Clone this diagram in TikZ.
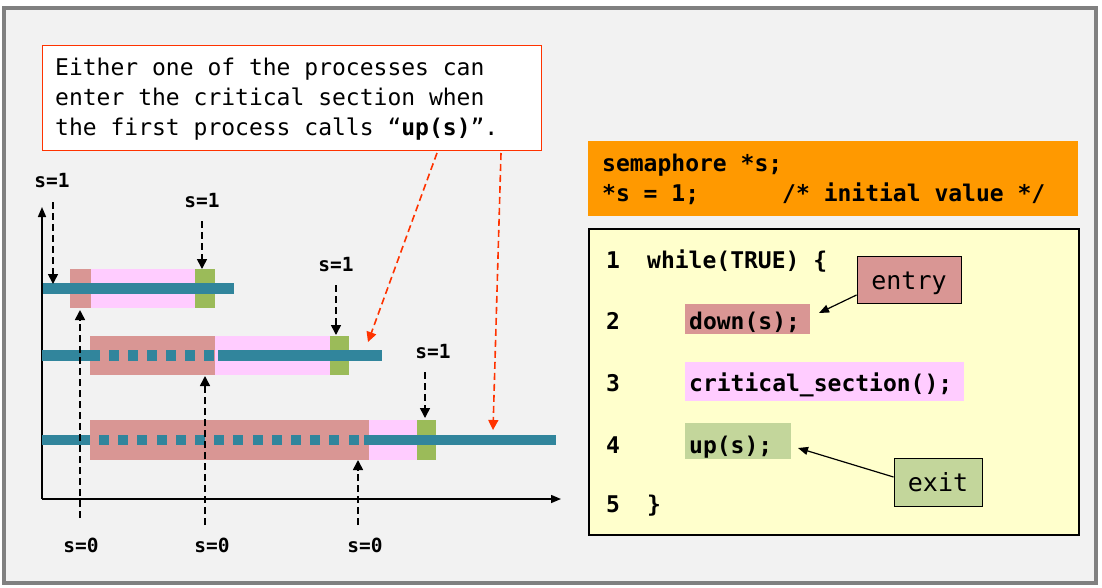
\documentclass[tikz,border=0pt]{standalone}
\usepackage{fontspec}
\setmonofont{DejaVu Sans Mono}
\usetikzlibrary{arrows.meta}
\definecolor{framegray}{HTML}{808080}
\definecolor{bggray}{HTML}{F2F2F2}
\definecolor{barteal}{HTML}{31859C}
\definecolor{blockred}{HTML}{D99694}
\definecolor{blockpink}{HTML}{FFCCFF}
\definecolor{blockgreen}{HTML}{9BBB59}
\definecolor{codegreen}{HTML}{C3D69B}
\definecolor{boxorange}{HTML}{FF9900}
\definecolor{boxyellow}{HTML}{FFFFCC}
\definecolor{calloutred}{HTML}{FF3300}
\tikzset{
  lbl/.style={font=\ttfamily\bfseries\fontsize{19.5}{21}\selectfont, inner sep=0pt, anchor=base},
  codetxt/.style={font=\ttfamily\bfseries\fontsize{23}{28}\selectfont, inner sep=0pt, anchor=base west},
  notetxt/.style={font=\ttfamily\fontsize{23}{30}\selectfont, inner sep=0pt, anchor=base west},
  tagbox/.style={draw=black, line width=1pt, font=\ttfamily\fontsize{25}{28}\selectfont, inner sep=0pt},
  darr/.style={dash pattern=on 7pt off 4pt, line width=1.6pt, -{Triangle[length=10pt,width=10pt]}},
  rarr/.style={darr, draw=calloutred, color=calloutred},
  tagarr/.style={line width=1.2pt, -{Triangle[length=10pt,width=8pt]}},
  axisarr/.style={line width=1.5pt, -{Triangle[length=10pt,width=8pt]}},
}
\begin{document}
\begin{tikzpicture}[x=1pt, y=-1pt]
\useasboundingbox (0,0) rectangle (1102,587);
% frame
\draw[line width=4pt, draw=framegray, fill=bggray] (4,8) rectangle (1096,583);

% callout
\node[draw=calloutred, line width=1pt, fill=white, minimum width=499pt, minimum height=105pt, anchor=north west, inner sep=0pt] (callout) at (42,45) {};
\node[notetxt] (n1) at (55,75) {Either one of the processes can};
\node[notetxt] (n2) at (55,105) {enter the critical section when};
\node[notetxt] (n3) at (55,135) {the first process calls “\textbf{up(s)}”.};

% axes
\coordinate (origin) at (42,499);
\coordinate (ytop) at (42,207);
\coordinate (xend) at (561,499);
\draw[axisarr] (origin) -- (ytop);
\draw[axisarr] (origin) -- (xend);

% row 1
\fill[blockred] (70,269) rectangle (91,308);
\fill[blockpink] (91,269) rectangle (195,308);
\fill[blockgreen] (195,269) rectangle (215,308);
\fill[barteal] (43,283) rectangle (234,294);

% row 2
\fill[blockred] (90,336) rectangle (215,375);
\fill[blockpink] (215,336) rectangle (330,375);
\fill[blockgreen] (330,336) rectangle (349,375);
\fill[barteal] (42,350) rectangle (100,361);
\foreach \k in {0,...,5} {\fill[barteal] ({109+19*\k},350) rectangle ({119+19*\k},361);}
\fill[barteal] (218,350) rectangle (382,361);

% row 3
\fill[blockred] (90,419.5) rectangle (369,460);
\fill[blockpink] (369,419.5) rectangle (417,460);
\fill[blockgreen] (417,419.5) rectangle (436,460);
\fill[barteal] (42,434.5) rectangle (90,445);
\foreach \k in {0,...,13} {\fill[barteal] ({99+19.2*\k},434.5) rectangle ({109+19.2*\k},445);}
\fill[barteal] (364,434.5) rectangle (556,445);

% s=1 labels and arrows
\node[lbl] (s1a) at (52,187) {s=1};
\coordinate (s1aS) at (53,202); \coordinate (s1aE) at (53,284);
\draw[darr] (s1aS) -- (s1aE);
\node[lbl] (s1b) at (202,207) {s=1};
\coordinate (s1bS) at (202,221); \coordinate (s1bE) at (202,269);
\draw[darr] (s1bS) -- (s1bE);
\node[lbl] (s1c) at (336,271) {s=1};
\coordinate (s1cS) at (336,285); \coordinate (s1cE) at (336,335);
\draw[darr] (s1cS) -- (s1cE);
\node[lbl] (s1d) at (433,358) {s=1};
\coordinate (s1dS) at (425,372); \coordinate (s1dE) at (425,418);
\draw[darr] (s1dS) -- (s1dE);

% s=0 labels and arrows
\node[lbl] (s0a) at (81,552) {s=0};
\coordinate (s0aS) at (80,518); \coordinate (s0aE) at (80,310);
\draw[darr] (s0aS) -- (s0aE);
\node[lbl] (s0b) at (212,552) {s=0};
\coordinate (s0bS) at (205,525); \coordinate (s0bE) at (205,376);
\draw[darr] (s0bS) -- (s0bE);
\node[lbl] (s0c) at (365,552) {s=0};
\coordinate (s0cS) at (358,525); \coordinate (s0cE) at (358,460);
\draw[darr] (s0cS) -- (s0cE);

% red arrows from callout
\coordinate (r1S) at (437,153); \coordinate (r1E) at (368,342);
\draw[rarr] (r1S) -- (r1E);
\coordinate (r2S) at (501,153); \coordinate (r2E) at (493,430);
\draw[rarr] (r2S) -- (r2E);

% orange box
\node[fill=boxorange, minimum width=490pt, minimum height=75pt, anchor=north west, inner sep=0pt] (sem) at (588,141) {};
\node[codetxt] (sem1) at (602,171.7) {semaphore *s;};
\node[codetxt] (sem2) at (602,201.7) {*s = 1;\ \ \ \ \ \ /* initial value */};

% code box
\node[draw=black, line width=1.5pt, fill=boxyellow, minimum width=490pt, minimum height=306pt, anchor=north west, inner sep=0pt] (codebox) at (588,228) {};
\fill[blockred] (685,304) rectangle (810,334);
\fill[blockpink] (685,362) rectangle (964,401);
\fill[codegreen] (685,423) rectangle (791,459);

\node[codetxt] (l1) at (606,268) {1};
\node[codetxt] (l2) at (606,329) {2};
\node[codetxt] (l3) at (606,391) {3};
\node[codetxt] (l4) at (606,453) {4};
\node[codetxt] (l5) at (606,512) {5};
\node[codetxt] (c1) at (647,268) {while(TRUE) \{};
\node[codetxt] (c2) at (689,329) {down(s);};
\node[codetxt] (c3) at (689,391) {critical\_section();};
\node[codetxt] (c4) at (689,453) {up(s);};
\node[codetxt] (c5) at (647,512) {\}};

% entry / exit
\node[tagbox, fill=blockred, minimum width=104pt, minimum height=47pt, text depth=2pt, text height=22pt] (entry) at (909,279.5) {entry};
\node[tagbox, fill=codegreen, minimum width=88pt, minimum height=48pt, text depth=2pt, text height=20pt] (exit) at (938,482) {exit};
\coordinate (entryE) at (819,313);
\coordinate (exitE) at (798,448);
\draw[tagarr] (entry.west |- 0,295) -- (entryE);
\draw[tagarr] (exit.west |- 0,477) -- (exitE);
\end{tikzpicture}
\end{document}
